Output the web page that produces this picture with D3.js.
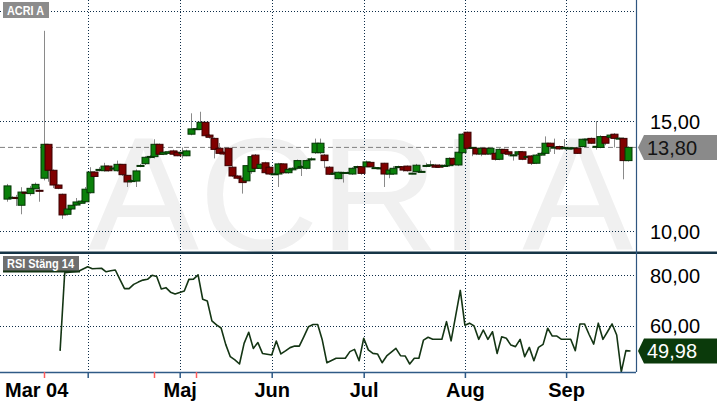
<!DOCTYPE html>
<html><head><meta charset="utf-8">
<script src="https://cdn.jsdelivr.net/npm/d3@7"></script>
<style>html,body{margin:0;padding:0;background:#fff;}svg{display:block;font-family:"Liberation Sans",Arial,sans-serif;}</style>
</head><body><svg id="c" width="717" height="404"></svg>
<script>
// ---- data ----
const title = "ACRI A";
const rsiTitle = "RSI Stäng 14";
const open  = [11.45,11.52,11.52,11.17,11.76,11.70,11.92,11.85,12.40,13.94,12.76,12.09,11.67,10.76,11.00,11.18,11.26,11.33,11.74,12.68,12.79,12.74,12.95,12.85,12.74,13.03,12.53,12.28,12.27,12.97,13.06,13.38,13.38,13.94,13.49,13.53,13.64,13.58,13.56,13.42,14.40,14.64,14.62,14.94,14.36,14.21,13.76,13.58,13.76,12.90,12.50,12.40,12.28,12.70,13.45,12.85,13.10,12.90,12.59,12.59,13.05,12.65,12.78,12.85,12.92,12.85,13.27,13.56,13.56,13.45,12.90,12.62,12.38,12.65,12.65,12.59,12.92,12.92,12.92,13.12,12.87,12.86,13.08,12.59,12.59,12.92,12.92,12.95,12.62,12.70,12.70,12.97,13.00,12.99,12.99,12.97,12.97,13.30,13.00,13.56,14.49,13.79,13.76,13.50,13.76,13.50,13.53,13.26,13.71,13.60,13.45,13.49,13.60,13.38,13.41,13.08,13.45,13.53,13.99,13.80,13.84,13.79,13.76,13.77,13.76,13.84,14.17,14.21,13.84,13.80,14.29,14.26,14.40,14.21,14.21,13.20];
const high  = [12.14,11.58,11.64,11.99,11.80,12.05,12.20,12.00,19.10,13.94,12.80,12.12,11.70,11.00,11.17,11.50,11.40,12.00,12.90,12.72,12.90,13.10,12.98,12.90,13.20,13.05,12.55,12.35,12.80,13.05,13.40,13.45,14.17,13.98,13.60,13.65,13.70,13.62,13.80,13.70,15.35,14.70,15.42,14.96,14.40,14.25,14.00,13.62,13.78,12.95,12.55,12.45,13.00,13.45,13.50,13.08,13.15,12.95,12.65,13.10,13.08,12.85,12.90,13.25,13.00,13.25,13.35,14.20,14.20,13.50,12.95,12.70,12.70,12.70,12.70,12.90,12.97,12.95,13.20,13.15,12.92,12.90,13.10,12.80,12.95,12.97,12.96,12.98,12.66,13.05,12.80,13.10,13.20,13.05,13.04,13.04,13.35,13.34,13.62,14.45,14.52,13.82,13.80,13.80,13.80,13.80,13.58,13.76,13.75,13.64,13.50,13.64,13.64,13.42,13.45,13.50,13.60,14.30,14.02,14.20,13.88,14.18,13.80,13.80,13.80,14.20,14.22,14.25,15.00,14.35,14.32,14.40,14.45,14.25,14.25,13.85];
const low   = [11.33,11.45,11.14,10.76,11.70,11.60,11.90,11.33,12.30,12.24,11.95,11.90,10.55,10.70,10.95,11.15,11.24,11.30,11.70,12.45,12.70,12.70,12.70,12.80,12.70,12.50,12.00,12.20,12.00,12.90,13.00,13.30,13.30,13.45,13.45,13.50,13.45,13.40,13.30,13.40,14.35,14.60,14.60,14.30,14.20,13.30,13.50,13.45,12.95,12.45,12.35,11.70,12.20,12.60,12.80,12.80,12.60,12.55,12.55,12.00,12.60,12.60,12.75,12.80,12.50,12.80,13.20,13.50,13.50,12.86,12.55,12.55,12.35,12.20,12.60,12.55,12.85,12.55,12.90,12.90,12.82,12.80,12.00,12.40,12.55,12.85,12.70,12.70,12.58,12.65,12.65,12.90,12.95,12.88,12.88,12.92,12.92,12.98,12.95,13.50,13.70,13.40,13.45,13.40,13.45,13.45,13.20,13.22,13.50,13.40,13.20,13.46,13.22,13.34,13.00,13.04,13.42,13.50,13.60,13.50,13.70,13.74,13.72,13.73,13.50,13.80,14.12,13.95,13.70,13.76,13.90,14.20,13.80,14.15,12.35,13.15];
const close = [12.05,11.53,11.51,11.77,11.72,11.94,12.12,11.81,13.94,12.76,12.09,11.94,10.73,11.00,11.17,11.32,11.36,11.90,12.68,12.48,12.80,12.95,12.74,12.86,13.03,12.56,12.23,12.29,12.73,12.98,13.35,13.39,13.94,13.49,13.58,13.60,13.49,13.42,13.57,13.64,14.64,14.65,14.94,14.33,14.26,13.71,13.53,13.50,12.97,12.50,12.40,12.20,12.97,13.38,12.85,13.03,12.65,12.59,12.60,13.05,12.65,12.80,12.85,13.20,12.93,13.20,13.28,13.99,13.99,13.20,12.58,12.63,12.67,12.66,12.66,12.85,12.93,12.62,13.14,12.92,12.88,12.87,12.59,12.77,12.85,12.93,12.77,12.74,12.63,12.99,12.71,12.98,13.01,12.90,12.90,12.98,13.30,13.03,13.58,14.40,13.76,13.80,13.50,13.76,13.50,13.76,13.26,13.71,13.53,13.49,13.46,13.60,13.26,13.39,13.08,13.45,13.53,13.99,13.84,13.81,13.73,13.80,13.77,13.78,13.53,14.17,14.18,13.99,13.85,14.29,13.99,14.36,14.21,14.22,13.20,13.80];
const rsi = [null,null,null,null,null,null,null,null,null,null,null,
  50.0,81.0,81.2,81.4,81.6,82.5,83.4,82.6,82.7,82.8,81.4,81.8,82.1,78.4,74.7,74.7,76.4,77.3,78.1,78.4,80.0,79.5,74.6,75.1,73.3,72.6,73.2,73.8,78.4,78.5,80.2,70.5,69.8,61.9,60.3,59.1,52.6,47.7,46.4,44.8,
  53.0,57.4,51.0,53.3,49.0,48.7,48.4,53.9,48.8,50.0,51.3,51.9,51.9,55.7,59.6,60.5,60.5,54.3,45.3,46.2,47.1,47.1,47.1,49.7,50.6,46.1,55.0,50.4,49.0,48.8,45.3,48.0,49.5,51.0,48.1,48.0,44.8,47.1,47.1,54.3,55.4,54.6,54.6,54.6,61.6,54.0,64.0,74.0,
  60.2,61.0,59.9,54.6,58.3,54.6,57.6,49.0,55.6,55.0,52.3,51.7,54.6,47.7,51.4,46.1,51.4,52.6,59.0,55.9,55.9,54.6,54.6,54.6,50.1,60.7,60.7,56.5,52.7,61.0,54.6,57.6,60.7,56.3,41.7,50.1,49.98];
const priceTicks = [10, 15];
const priceGrid = [10, 15, 20];
const rsiTicks = [60, 80];
const monthTickIdx = [17, 37, 57, 77, 99, 121];
const monthLabels = ["", "Maj", "Jun", "Jul", "Aug", "Sep"];
const firstMonthLabel = "Mar 04";
const eventIdx = [8, 32, 41];
const lastPrice = 13.80;
const lastRsi = 49.98;

// ---- layout ----
const W = 717, H = 404;
const plotR = 636, upTop = 0, upBot = 252, rsiTop = 254, rsiBot = 372;
const fmt = d => d.toFixed(2).replace(".", ",");
const svg = d3.select("#c");
const x = d3.scaleLinear().domain([0, close.length - 1]).range([9.5, 630.5]);
const candleShift = -2.5;
const yP = d3.scaleLinear().domain([10, 20]).range([231, 11]);
const yR = d3.scaleLinear().domain([60, 80]).range([325.7, 275.3]);
const gridCol = "#0d2c48";

svg.append("rect").attr("width", W).attr("height", H).attr("fill", "#fff");
const defs = svg.append("defs");
defs.append("clipPath").attr("id", "cu").append("rect").attr("x", 0).attr("y", upTop).attr("width", plotR).attr("height", upBot - upTop);
defs.append("clipPath").attr("id", "cr").append("rect").attr("x", 0).attr("y", rsiTop).attr("width", plotR).attr("height", rsiBot - rsiTop);

// watermark
svg.append("g").attr("clip-path", "url(#cu)").append("text")
  .attr("x", 88).attr("y", 250).attr("font-size", 162).attr("fill", "#f0f0f0")
  .attr("textLength", 545).attr("lengthAdjust", "spacingAndGlyphs")
  .text(title);

// grid
const grid = svg.append("g").attr("stroke", gridCol).attr("stroke-width", 1).attr("stroke-dasharray", "1,2").attr("shape-rendering", "crispEdges");
priceGrid.forEach(v => grid.append("line").attr("x1", 0).attr("x2", plotR).attr("y1", Math.round(yP(v)) + 0.5).attr("y2", Math.round(yP(v)) + 0.5));
rsiTicks.forEach(v => grid.append("line").attr("x1", 0).attr("x2", plotR).attr("y1", Math.round(yR(v)) + 0.5).attr("y2", Math.round(yR(v)) + 0.5));
monthTickIdx.forEach(i => grid.append("line").attr("x1", Math.round(x(i)) + 0.5).attr("x2", Math.round(x(i)) + 0.5).attr("y1", 0).attr("y2", rsiBot));

// current price dashed line
svg.append("line").attr("x1", 0).attr("x2", plotR).attr("y1", yP(lastPrice)).attr("y2", yP(lastPrice))
  .attr("stroke", "#808080").attr("stroke-width", 1).attr("stroke-dasharray", "5,3");

// candles
const cg = svg.append("g").attr("clip-path", "url(#cu)");
const idx = d3.range(close.length);
cg.selectAll("line.w").data(idx).join("line").attr("class", "w")
  .attr("x1", i => Math.round(x(i) + candleShift) + 0.5).attr("x2", i => Math.round(x(i) + candleShift) + 0.5)
  .attr("y1", i => yP(high[i])).attr("y2", i => yP(low[i]))
  .attr("stroke", "#8a8a8a").attr("stroke-width", 1);
const bw = 7;
cg.selectAll("rect.b").data(idx).join("rect").attr("class", "b")
  .attr("x", i => Math.round(x(i) + candleShift) - 3)
  .attr("y", i => Math.min(yP(open[i]), yP(close[i])))
  .attr("width", bw)
  .attr("height", i => Math.max(1, Math.abs(yP(open[i]) - yP(close[i]))))
  .attr("fill", i => close[i] >= open[i] ? "#0a800a" : "#800000")
  .attr("stroke", i => close[i] >= open[i] ? "#053505" : "#3a0000")
  .attr("stroke-width", 1);

// RSI line
svg.append("g").attr("clip-path", "url(#cr)").append("path")
  .datum(idx.filter(i => rsi[i] != null))
  .attr("d", d3.line().x(i => x(i)).y(i => yR(rsi[i])))
  .attr("fill", "none").attr("stroke", "#143514").attr("stroke-width", 1.6).attr("stroke-linejoin", "round");

// panel separators / borders
svg.append("line").attr("x1", 0).attr("x2", W).attr("y1", 252.8).attr("y2", 252.8).attr("stroke", "#163547").attr("stroke-width", 2.6);
svg.append("line").attr("x1", plotR + 0.5).attr("x2", plotR + 0.5).attr("y1", 0).attr("y2", rsiBot).attr("stroke", "#2f5680").attr("stroke-width", 1.2);

// bottom axis
const xa = svg.append("g").attr("transform", `translate(0,${rsiBot})`)
  .call(d3.axisBottom(x).tickValues(monthTickIdx).tickSize(6).tickPadding(5).tickFormat((d, i) => monthLabels[i]));
xa.select(".domain").attr("d", `M0,0.5H${plotR}`).attr("stroke", "#2f5a86").attr("stroke-width", 1.5);
xa.selectAll(".tick line").attr("stroke", "#2f5a86").attr("stroke-width", 1.5);
xa.selectAll(".tick text").attr("font-size", 20).attr("font-weight", "bold").attr("fill", "#000").attr("font-family", "Liberation Sans, Arial, sans-serif");
xa.append("text").attr("x", 5).attr("y", 11).attr("dy", "0.71em").attr("text-anchor", "start")
  .attr("font-size", 20).attr("font-weight", "bold").attr("fill", "#000").text(firstMonthLabel);
xa.selectAll("line.ev").data(eventIdx).join("line").attr("class", "ev")
  .attr("x1", i => Math.round(x(i) + candleShift) + 0.5).attr("x2", i => Math.round(x(i) + candleShift) + 0.5).attr("y1", 0).attr("y2", 6)
  .attr("stroke", "#ff5c5c").attr("stroke-width", 1.5);

// right axes
function rightAxis(scale, vals) {
  const g = svg.append("g").attr("transform", `translate(${plotR},0)`)
    .call(d3.axisRight(scale).tickValues(vals).tickSize(0).tickPadding(14).tickFormat(fmt));
  g.select(".domain").remove();
  g.selectAll(".tick text").attr("font-size", 20).attr("fill", "#000").attr("font-family", "Liberation Sans, Arial, sans-serif").attr("dy", "0.36em");
}
rightAxis(yP, priceTicks);
rightAxis(yR, rsiTicks);

// value tags
function tag(yc, fill, txtFill, label) {
  svg.append("path").attr("d", `M638,${yc} L644,${yc - 12.5} L717,${yc - 12.5} L717,${yc + 12.5} L644,${yc + 12.5} Z`).attr("fill", fill);
  svg.append("text").attr("x", 647).attr("y", yc).attr("dy", "0.36em").attr("font-size", 20).attr("fill", txtFill).text(label);
}
tag(yP(lastPrice), "#8a8a8a", "#141414", fmt(lastPrice));
tag(yR(lastRsi), "#0b3a0b", "#ffffff", fmt(lastRsi));

// panel titles
svg.append("rect").attr("x", 3).attr("y", 2).attr("width", 46).attr("height", 16).attr("fill", "#8c8c8c");
svg.append("text").attr("x", 7).attr("y", 14.5).attr("font-size", 12).attr("font-weight", "bold").attr("fill", "#fff")
  .attr("textLength", 37).attr("lengthAdjust", "spacingAndGlyphs").text(title);
svg.append("rect").attr("x", 3).attr("y", 256).attr("width", 76).attr("height", 15).attr("fill", "#6e6e6e");
svg.append("line").attr("x1", 3).attr("x2", 80).attr("y1", 271.5).attr("y2", 271.5).attr("stroke", "#143514").attr("stroke-width", 2);
svg.append("text").attr("x", 7).attr("y", 268).attr("font-size", 12).attr("font-weight", "bold").attr("fill", "#fff")
  .attr("textLength", 67).attr("lengthAdjust", "spacingAndGlyphs").text(rsiTitle);
</script></body></html>
